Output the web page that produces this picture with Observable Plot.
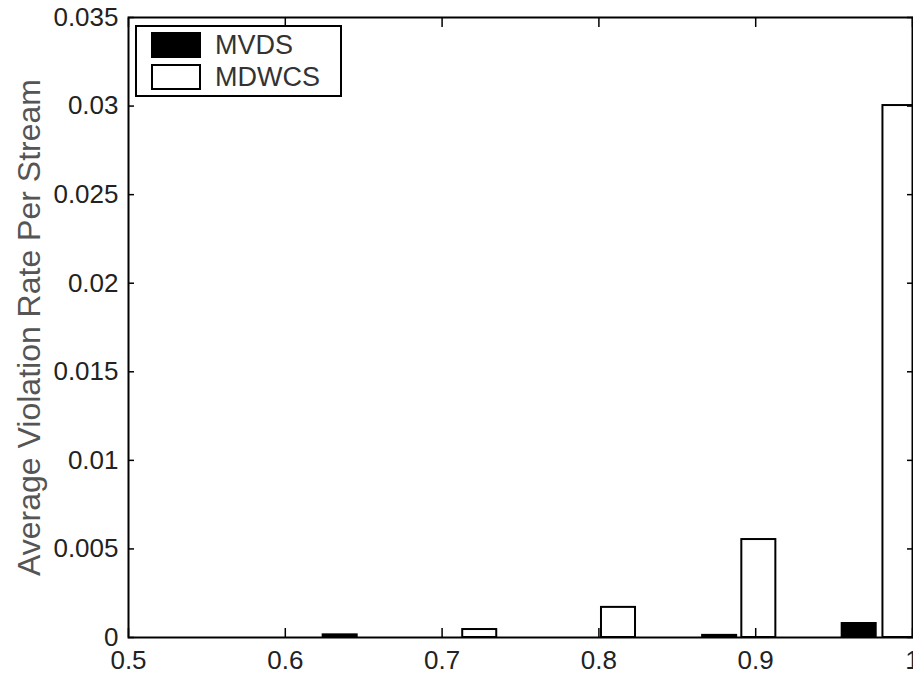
<!DOCTYPE html>
<html>
<head>
<meta charset="utf-8">
<script src="https://cdn.jsdelivr.net/npm/d3@7"></script>
<script src="https://cdn.jsdelivr.net/npm/@observablehq/plot@0.6"></script>
<style>
  html, body { margin: 0; padding: 0; background: #fff; }
  #wrap { position: relative; width: 913px; height: 674px; font-family: "Liberation Sans", Arial, sans-serif; }
  #legend { position: absolute; left: 135px; top: 25px; width: 203px; height: 68px; border: 2px solid #000; background: #fff; }
  .sw { position: absolute; left: 14px; width: 46px; height: 22px; border: 2px solid #000; }
  .lt { position: absolute; left: 78px; font-size: 27px; color: #333; line-height: 30px; }
</style>
</head>
<body>
<div id="wrap"></div>
<script>
const xTicks = [0.5, 0.6, 0.7, 0.8, 0.9, 1];
const xTickLabels = ["0.5", "0.6", "0.7", "0.8", "0.9", "1"];
const yTicks = [0, 0.005, 0.01, 0.015, 0.02, 0.025, 0.03, 0.035];
const yTickLabels = ["0", "0.005", "0.01", "0.015", "0.02", "0.025", "0.03", "0.035"];
const seriesNames = ["MVDS", "MDWCS"];
const seriesFill = ["#000000", "#ffffff"];
const mvdsCenters = [0.635, 0.877, 0.966];
const mvdsValues = [0.00015, 0.00012, 0.00079];
const mdwcsCenters = [0.724, 0.8125, 0.902, 0.992];
const mdwcsValues = [0.00045, 0.0017, 0.00553, 0.03003];
const barWidth = 0.0217;
const yLabel = "Average Violation Rate Per Stream";

const bars = [
  ...mvdsCenters.map((c, i) => ({s: seriesNames[0], x1: c - barWidth / 2, x2: c + barWidth / 2, v: mvdsValues[i]})),
  ...mdwcsCenters.map((c, i) => ({s: seriesNames[1], x1: c - barWidth / 2, x2: c + barWidth / 2, v: mdwcsValues[i]}))
];

const font = "Liberation Sans, Arial, sans-serif";
const tickOnly = {tickFormat: () => "", label: null, stroke: "#000", strokeWidth: 1.5};
const chart = Plot.plot({
  width: 913,
  height: 674,
  marginLeft: 128,
  marginRight: 1,
  marginTop: 17,
  marginBottom: 37,
  style: {fontFamily: font, background: "#fff", overflow: "visible"},
  x: {domain: [0.5, 1], axis: null},
  y: {domain: [0, 0.035], axis: null},
  color: {domain: seriesNames, range: seriesFill},
  marks: [
    Plot.rect(bars, {x1: "x1", x2: "x2", y1: 0, y2: "v", fill: "s", stroke: "#000", strokeWidth: 2, clip: true}),
    Plot.axisX({...tickOnly, ticks: xTicks, tickSize: -9}),
    Plot.axisX({...tickOnly, anchor: "top", ticks: xTicks, tickSize: -9}),
    Plot.axisY({...tickOnly, ticks: yTicks, tickSize: -6}),
    Plot.axisY({...tickOnly, anchor: "right", ticks: yTicks, tickSize: -6}),
    Plot.axisX({ticks: xTicks, tickSize: 0, tickPadding: 13, tickFormat: (d, i) => xTickLabels[i], fontSize: 26, fill: "#222", label: null}),
    Plot.axisY({ticks: yTicks, tickSize: 0, tickPadding: 10, tickFormat: (d, i) => yTickLabels[i], fontSize: 26, fill: "#222", label: null}),
    Plot.text([yLabel], {text: d => d, frameAnchor: "left", textAnchor: "middle", rotate: -90, dx: -99, fontSize: 32, fill: "#555"}),
    Plot.frame({stroke: "#000", strokeWidth: 2})
  ]
});

const wrap = document.getElementById("wrap");
wrap.appendChild(chart);
const legend = document.createElement("div");
legend.id = "legend";
seriesNames.forEach((name, i) => {
  const sw = document.createElement("div");
  sw.className = "sw";
  sw.style.top = (5 + i * 32) + "px";
  sw.style.background = seriesFill[i];
  legend.appendChild(sw);
  const t = document.createElement("div");
  t.className = "lt";
  t.style.top = (3 + i * 32) + "px";
  t.textContent = name;
  legend.appendChild(t);
});
wrap.appendChild(legend);
</script>
</body>
</html>
